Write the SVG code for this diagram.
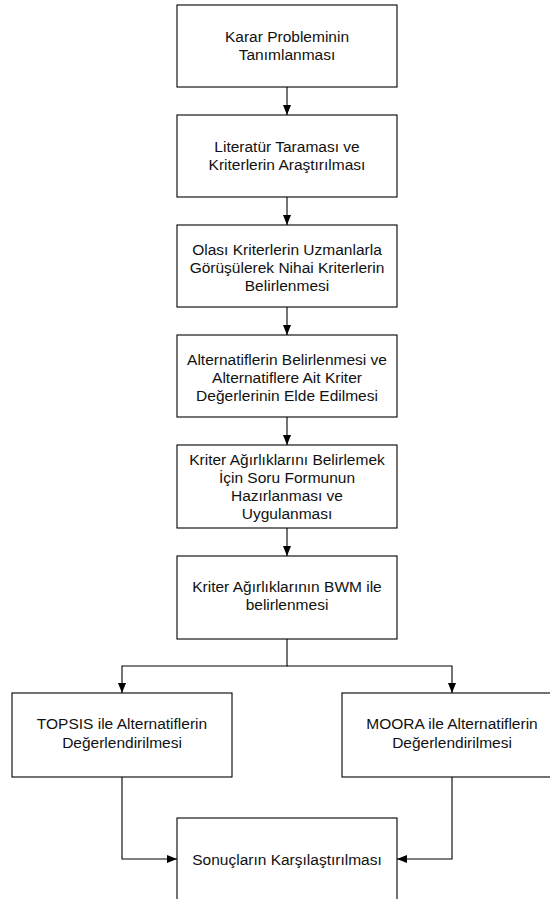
<svg xmlns="http://www.w3.org/2000/svg" width="550" height="899" viewBox="0 0 550 899">
<style>
.box{fill:#fff;stroke:#000;stroke-width:1.1}
.t{font-family:"Liberation Sans",Arial,sans-serif;font-size:15.5px;fill:#111;text-anchor:middle}
.c{fill:none;stroke:#000;stroke-width:1.1}
</style>
<defs>
<marker id="ah" viewBox="0 0 10 10" refX="10" refY="5" markerWidth="10" markerHeight="10" markerUnits="userSpaceOnUse" orient="auto">
<path d="M0,1 L10,5 L0,9 Z" fill="#000"/>
</marker>
</defs>
<g id="connectors">
<path class="c" d="M287,87 V115" marker-end="url(#ah)"/>
<path class="c" d="M287,197 V225" marker-end="url(#ah)"/>
<path class="c" d="M287,307 V335" marker-end="url(#ah)"/>
<path class="c" d="M287,417 V445" marker-end="url(#ah)"/>
<path class="c" d="M287,528 V556" marker-end="url(#ah)"/>
<path class="c" d="M287,639 V666 H122 V693" marker-end="url(#ah)"/>
<path class="c" d="M287,666 H452 V693" marker-end="url(#ah)"/>
<path class="c" d="M122,777 V859 H177" marker-end="url(#ah)"/>
<path class="c" d="M452,777 V859 H397" marker-end="url(#ah)"/>
</g>
<g id="n1"><rect class="box" x="177" y="5" width="220" height="82"/>
<text class="t" x="287" y="42">Karar Probleminin</text><text class="t" x="287" y="60">Tanımlanması</text></g>
<g id="n2"><rect class="box" x="177" y="115" width="220" height="82"/>
<text class="t" x="287" y="152">Literatür Taraması ve</text><text class="t" x="287" y="170">Kriterlerin Araştırılması</text></g>
<g id="n3"><rect class="box" x="177" y="225" width="220" height="82"/>
<text class="t" x="287" y="255">Olası Kriterlerin Uzmanlarla</text><text class="t" x="287" y="273">Görüşülerek Nihai Kriterlerin</text><text class="t" x="287" y="291">Belirlenmesi</text></g>
<g id="n4"><rect class="box" x="177" y="335" width="220" height="82"/>
<text class="t" x="287" y="365">Alternatiflerin Belirlenmesi ve</text><text class="t" x="287" y="383">Alternatiflere Ait Kriter</text><text class="t" x="287" y="401">Değerlerinin Elde Edilmesi</text></g>
<g id="n5"><rect class="box" x="177" y="445" width="220" height="83"/>
<text class="t" x="287" y="465">Kriter Ağırlıklarını Belirlemek</text><text class="t" x="287" y="483">İçin Soru Formunun</text><text class="t" x="287" y="501">Hazırlanması ve</text><text class="t" x="287" y="519">Uygulanması</text></g>
<g id="n6"><rect class="box" x="177" y="556" width="220" height="83"/>
<text class="t" x="287" y="592">Kriter Ağırlıklarının BWM ile</text><text class="t" x="287" y="610">belirlenmesi</text></g>
<g id="n7"><rect class="box" x="12" y="693" width="220" height="84"/>
<text class="t" x="122" y="729">TOPSIS ile Alternatiflerin</text><text class="t" x="122" y="748">Değerlendirilmesi</text></g>
<g id="n8"><rect class="box" x="342" y="693" width="220" height="84"/>
<text class="t" x="452" y="729">MOORA ile Alternatiflerin</text><text class="t" x="452" y="748">Değerlendirilmesi</text></g>
<g id="n9"><rect class="box" x="177" y="818" width="220" height="84"/>
<text class="t" x="287" y="865">Sonuçların Karşılaştırılması</text></g>
</svg>
